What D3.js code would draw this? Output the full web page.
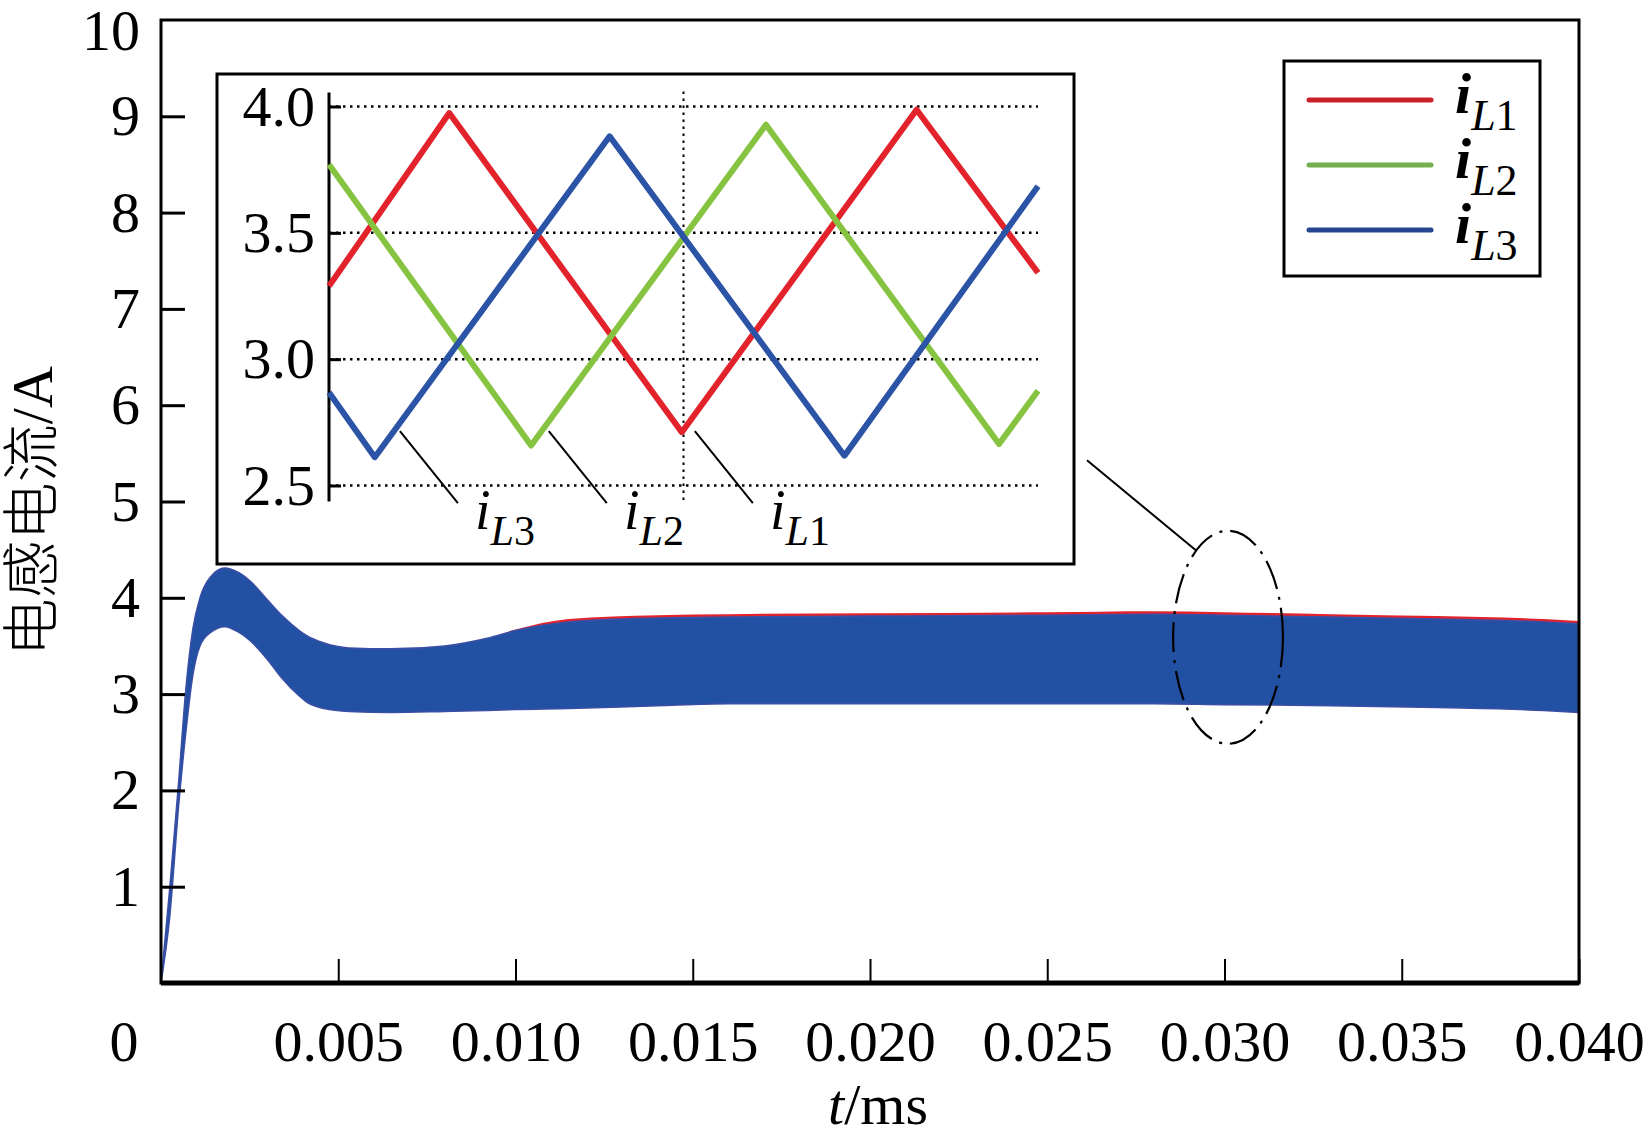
<!DOCTYPE html>
<html>
<head>
<meta charset="utf-8">
<script src="https://cdn.jsdelivr.net/npm/d3@7"></script>
<style>
  html, body { margin: 0; padding: 0; background: #fff; }
  text { font-family: "Liberation Serif", "Times New Roman", serif; fill: #000; }
</style>
</head>
<body>
<div id="chart"></div>
<script>
// Main plot: envelope of the three inductor currents (t in ms, current in A)
const tMain = [0, 0.00025, 0.0005, 0.0007, 0.0009, 0.0011, 0.0014, 0.0018, 0.0022, 0.0025, 0.0030, 0.0034, 0.0039, 0.0041, 0.0046, 0.0053, 0.0065, 0.0080, 0.0092, 0.0100, 0.0115, 0.0140, 0.0160, 0.0200, 0.0250, 0.0280, 0.0300, 0.0330, 0.0360, 0.0390, 0.0400];
const upperL3 = [0, 1.0, 2.1, 3.05, 3.68, 4.0, 4.22, 4.31, 4.26, 4.18, 3.98, 3.82, 3.66, 3.61, 3.53, 3.48, 3.47, 3.50, 3.58, 3.66, 3.75, 3.79, 3.80, 3.81, 3.82, 3.83, 3.82, 3.80, 3.78, 3.75, 3.73];
const lowerL3 = [0, 0.7, 1.85, 2.6, 3.2, 3.5, 3.64, 3.70, 3.64, 3.56, 3.36, 3.17, 2.98, 2.92, 2.85, 2.82, 2.81, 2.82, 2.83, 2.84, 2.85, 2.88, 2.90, 2.90, 2.90, 2.90, 2.89, 2.88, 2.86, 2.83, 2.81];
// iL1 upper edge peeks out above the blue band after ~0.010 ms
const upperL1 = [0, 1.0, 2.1, 3.05, 3.68, 4.0, 4.22, 4.31, 4.26, 4.18, 3.98, 3.82, 3.66, 3.61, 3.53, 3.48, 3.47, 3.50, 3.58, 3.67, 3.78, 3.82, 3.83, 3.84, 3.85, 3.86, 3.85, 3.83, 3.81, 3.78, 3.76];

const xTicks = [0.005, 0.010, 0.015, 0.020, 0.025, 0.030, 0.035, 0.040];
const yTicks = [1, 2, 3, 4, 5, 6, 7, 8, 9, 10];

// Inset: zoomed steady-state ripple (normalised time 0..1)
const insetTicks = [2.5, 3.0, 3.5, 4.0];
const insetMarker = [0.5];
const uL1 = [0, 0.1696, 0.4976, 0.8288, 1.0];
const vL1 = [3.289, 3.974, 2.711, 3.987, 3.342];
const uL2 = [0, 0.2851, 0.6163, 0.9451, 1.0];
const vL2 = [3.770, 2.658, 3.928, 2.664, 2.875];
const uL3 = [0, 0.0646, 0.3958, 0.7270, 1.0];
const vL3 = [2.868, 2.612, 3.882, 2.618, 3.684];

const seriesNames = ["L1", "L2", "L3"];
const colors = {L1: "#e3232b", L2: "#86c341", L3: "#2b53a6"};
const legendColors = {L1: "#c9202a", L2: "#74b04f", L3: "#25468f"};

// zoom ellipse (in data units)
const zoomT = 0.0301, zoomV = 3.59, zoomRT = 0.00155, zoomRV = 1.106;

const W = 1647, H = 1140;
const svg = d3.select("#chart").append("svg")
  .attr("width", W).attr("height", H)
  .attr("viewBox", `0 0 ${W} ${H}`);

const x = d3.scaleLinear().domain([0, 0.04]).range([161, 1579]);
const y = d3.scaleLinear().domain([0, 10]).range([983, 20]);

svg.append("defs").append("clipPath").attr("id", "clipMain")
  .append("rect").attr("x", x(0)).attr("y", y(10))
  .attr("width", x(0.04) - x(0)).attr("height", y(0) - y(10));

// band areas
const mainData = tMain.map((t, i) => ({t, u1: upperL1[i], u3: upperL3[i], l3: lowerL3[i]}));
const plot = svg.append("g").attr("clip-path", "url(#clipMain)");
plot.append("path")
  .datum(mainData)
  .attr("fill", colors.L1)
  .attr("d", d3.area().x(d => x(d.t)).y0(d => y(d.l3)).y1(d => y(d.u1)).curve(d3.curveMonotoneX));
plot.append("path")
  .datum(mainData)
  .attr("fill", "#2250a2")
  .attr("stroke", "#3a4fa6")
  .attr("stroke-width", 1.5)
  .attr("d", d3.area().x(d => x(d.t)).y0(d => y(d.l3)).y1(d => y(d.u3)).curve(d3.curveMonotoneX));

// frame
svg.append("rect")
  .attr("x", x(0)).attr("y", y(10))
  .attr("width", x(0.04) - x(0)).attr("height", y(0) - y(10))
  .attr("fill", "none").attr("stroke", "#000").attr("stroke-width", 3);
svg.append("line")
  .attr("x1", x(0)).attr("x2", x(0.04)).attr("y1", y(0)).attr("y2", y(0))
  .attr("stroke", "#000").attr("stroke-width", 5);

// y axis
const yAxis = svg.append("g")
  .attr("transform", `translate(${x(0)},0)`)
  .call(d3.axisLeft(y).tickValues(yTicks).tickSize(-24).tickPadding(21).tickFormat(d3.format("d")));
yAxis.select(".domain").remove();
yAxis.selectAll(".tick line").attr("stroke-width", 3).filter(d => d === 10).remove();
yAxis.attr("font-family", null).attr("font-size", null);
yAxis.selectAll("text").attr("font-size", 58);
yAxis.selectAll("text").filter(d => d === 10).attr("dy", "0.5em");

// x axis
const xAxis = svg.append("g")
  .attr("transform", `translate(0,${y(0)})`)
  .call(d3.axisBottom(x).tickValues(xTicks).tickSize(-24).tickPadding(37).tickFormat(d3.format(".3f")));
xAxis.select(".domain").remove();
xAxis.selectAll(".tick line").attr("stroke-width", 2);
xAxis.attr("font-family", null).attr("font-size", null);
xAxis.selectAll("text").attr("font-size", 58);

svg.append("text")
  .attr("x", x(0) - 37).attr("y", y(0) + 37)
  .attr("dy", "0.71em").attr("text-anchor", "middle")
  .attr("font-size", 58).text("0");

// axis titles
const xt = svg.append("text")
  .attr("x", x(0.02) + 8).attr("y", 1124)
  .attr("text-anchor", "middle").attr("font-size", 58);
xt.append("tspan").attr("font-style", "italic").text("t");
xt.append("tspan").text("/ms");

const yt = svg.append("text")
  .attr("transform", `translate(52,${y(4.9)}) rotate(-90)`)
  .attr("text-anchor", "middle").attr("font-size", 58);
yt.append("tspan").attr("font-family", "'Noto Sans CJK SC', sans-serif").attr("font-weight", 300).text("电感电流");
yt.append("tspan").text("/A");

// zoom ellipse + leader line
const ex = x(zoomT), ey = y(zoomV);
const erx = x(zoomT + zoomRT) - ex, ery = y(zoomV - zoomRV) - ey;
svg.append("ellipse")
  .attr("cx", ex).attr("cy", ey).attr("rx", erx).attr("ry", ery)
  .attr("fill", "none").attr("stroke", "#000").attr("stroke-width", 2.2)
  .attr("stroke-dasharray", "30,8,3,8");

// inset
const box = {x0: 217, y0: 74, x1: 1074, y1: 564};
const ix = d3.scaleLinear().domain([0, 1]).range([329, 1038]);
const iy = d3.scaleLinear().domain([2.5, 4.0]).range([485.5, 106.5]);

const ang = 125.5 * Math.PI / 180;
svg.append("line")
  .attr("x1", box.x1 + 13).attr("y1", iy(2.6))
  .attr("x2", ex + erx * Math.cos(ang)).attr("y2", ey - ery * Math.sin(ang))
  .attr("stroke", "#000").attr("stroke-width", 2);

svg.append("rect")
  .attr("x", box.x0).attr("y", box.y0)
  .attr("width", box.x1 - box.x0).attr("height", box.y1 - box.y0)
  .attr("fill", "#fff").attr("stroke", "#000").attr("stroke-width", 3);

const inset = svg.append("g");
// dotted grid
inset.selectAll(".hgrid").data(insetTicks).enter().append("line")
  .attr("x1", ix(0)).attr("x2", ix(1))
  .attr("y1", d => iy(d)).attr("y2", d => iy(d))
  .attr("stroke", "#000").attr("stroke-width", 2.5).attr("stroke-dasharray", "2.5,4.5");
inset.selectAll(".vgrid").data(insetMarker).enter().append("line")
  .attr("x1", d => ix(d)).attr("x2", d => ix(d))
  .attr("y1", iy(4.0) - 15).attr("y2", iy(2.5) + 19)
  .attr("stroke", "#000").attr("stroke-width", 2).attr("stroke-dasharray", "2.5,4.5");

const iAxis = inset.append("g")
  .attr("transform", `translate(${ix(0)},0)`)
  .call(d3.axisLeft(iy).tickValues(insetTicks).tickSize(-12).tickPadding(14).tickFormat(d3.format(".1f")));
iAxis.select(".domain").remove();
iAxis.selectAll(".tick line").attr("stroke-width", 3);
iAxis.attr("font-family", null).attr("font-size", null);
iAxis.selectAll("text").attr("font-size", 58);
inset.append("line")
  .attr("x1", ix(0)).attr("x2", ix(0))
  .attr("y1", iy(4.0) - 14).attr("y2", iy(2.5) + 16)
  .attr("stroke", "#000").attr("stroke-width", 3);

const insetSeries = [
  {name: "L1", u: uL1, v: vL1},
  {name: "L2", u: uL2, v: vL2},
  {name: "L3", u: uL3, v: vL3}
];
const iline = d3.line().x(d => ix(d[0])).y(d => iy(d[1]));
inset.selectAll(".wave").data(insetSeries).enter().append("path")
  .attr("fill", "none")
  .attr("stroke", d => colors[d.name])
  .attr("stroke-width", 6)
  .attr("stroke-linejoin", "round")
  .attr("d", d => iline(d.u.map((u, i) => [u, d.v[i]])));

// inset callouts
const callouts = [
  {name: "L3", u: 0.100, v: 2.715, lx: 475},
  {name: "L2", u: 0.310, v: 2.715, lx: 624},
  {name: "L1", u: 0.516, v: 2.715, lx: 770}
];
callouts.forEach(c => {
  const sx = ix(c.u), sy = iy(c.v);
  inset.append("line")
    .attr("x1", sx).attr("y1", sy)
    .attr("x2", sx + 58).attr("y2", sy + 72)
    .attr("stroke", "#000").attr("stroke-width", 2);
  const t = inset.append("text").attr("x", c.lx).attr("y", 529).attr("font-size", 56);
  t.append("tspan").attr("font-style", "italic").text("i");
  t.append("tspan").attr("font-style", "italic").attr("font-size", 42).attr("dy", 16).text("L");
  t.append("tspan").attr("font-size", 42).text(c.name.slice(1));
});

// legend
const lg = svg.append("g");
lg.append("rect")
  .attr("x", 1284).attr("y", 61).attr("width", 256).attr("height", 215)
  .attr("fill", "#fff").attr("stroke", "#000").attr("stroke-width", 3);
const rows = lg.selectAll(".row").data(seriesNames).enter().append("g")
  .attr("transform", (d, i) => `translate(1309,${100 + i * 65})`);
rows.append("line")
  .attr("x1", 0).attr("x2", 122).attr("y1", 0).attr("y2", 0)
  .attr("stroke", d => legendColors[d]).attr("stroke-width", 5).attr("stroke-linecap", "round");
const lt = rows.append("text").attr("x", 146).attr("y", 13).attr("font-size", 58);
lt.append("tspan").attr("font-style", "italic").attr("font-weight", "bold").text("i");
lt.append("tspan").attr("font-style", "italic").attr("font-size", 44).attr("dy", 17).text("L");
lt.append("tspan").attr("font-size", 44).text(d => d.slice(1));
</script>
</body>
</html>
